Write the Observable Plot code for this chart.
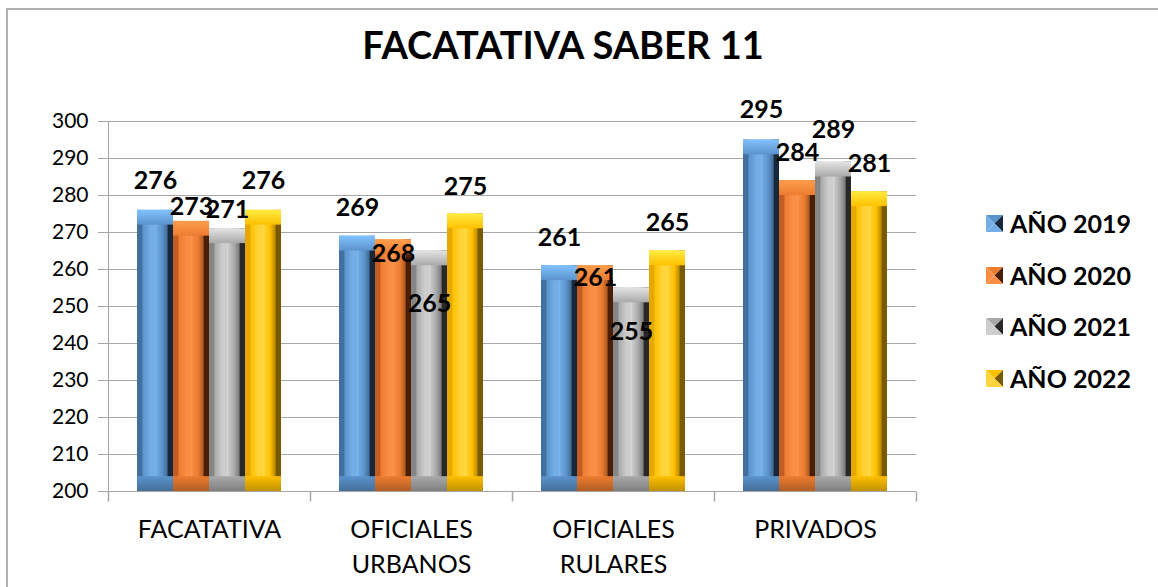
<!DOCTYPE html>
<html><head><meta charset="utf-8">
<script src="https://cdn.jsdelivr.net/npm/d3@7"></script>
<script src="https://cdn.jsdelivr.net/npm/@observablehq/plot@0.6"></script>
<style>
body{margin:0;background:#fff;}
#wrap{position:relative;width:1158px;height:587px;overflow:hidden;font-family:Lato,"Noto Sans",sans-serif;}
#border{position:absolute;left:6px;top:8px;width:1200px;height:700px;border-left:2px solid #b0b0b0;border-top:2px solid #b0b0b0;}
#title{position:absolute;left:0;width:1126px;top:22px;text-align:center;font-weight:bold;font-size:38px;line-height:44px;color:#000;}
#chart{position:absolute;left:0;top:0;}
.leg{position:absolute;left:986px;height:24px;display:flex;align-items:center;font-weight:bold;font-size:25px;color:#000;white-space:nowrap;}
.leg svg{margin-right:7px;}
</style></head>
<body>
<div id="wrap">
  <div id="border"></div>
  <div id="chart"></div>
  <div id="title">FACATATIVA SABER 11</div>
  <div id="legend"></div>
</div>
<script>
// ---- data ----
const categories = ["FACATATIVA", "OFICIALES\nURBANOS", "OFICIALES\nRULARES", "PRIVADOS"];
const series = ["AÑO 2019", "AÑO 2020", "AÑO 2021", "AÑO 2022"];
const v2019 = [276, 269, 261, 295];
const v2020 = [273, 268, 261, 284];
const v2021 = [271, 265, 255, 289];
const v2022 = [276, 275, 265, 281];
const yTicks = [200, 210, 220, 230, 240, 250, 260, 270, 280, 290, 300];

// ---- label placement (data units above/below bar top), as in the original ----
const labelShift = [
  [7.8, 7.5, 7.4, 8.0],
  [3.8, -3.9, -3.2, 7.6],
  [5.0, -14.2, -11.8, 8.6],
  [7.8, 7.4, 7.7, 7.6]
];

const values = [v2019, v2020, v2021, v2022];
const data = categories.flatMap((c, ci) => series.map((s, si) => ({
  cat: c, s, si, v: values[si][ci], shift: labelShift[si][ci]
})));

// colour ramps: [left face, light, base, dark right]
const palettes = [
  ["#42709e", "#74aee6", "#5b93cc", "#17283c"],
  ["#c25c22", "#f98e44", "#ec7c30", "#4a1f06"],
  ["#858585", "#cdcdcd", "#a9a9a9", "#282828"],
  ["#e4a800", "#ffd43a", "#ffc000", "#7a5a00"]
];

const tickSym = {draw(ctx) { ctx.moveTo(0, 0); ctx.lineTo(0, 10); }};
const gridColor = "#a6a6a6";

const chart = Plot.plot({
  width: 1158, height: 587,
  marginLeft: 107, marginRight: 241, marginTop: 121, marginBottom: 96,
  style: {fontFamily: "Lato, 'Noto Sans', sans-serif", color: "#000", background: "transparent"},
  fx: {domain: categories, padding: 0, axis: null, label: null},
  x: {domain: series, paddingInner: 0, paddingOuter: 0.74, axis: null},
  y: {domain: [200, 300], axis: null},
  color: {type: "identity"},
  marks: [
    Plot.gridY(yTicks, {stroke: gridColor, strokeOpacity: 1}),
    Plot.axisY(yTicks, {facetAnchor: "left", tickSize: 10, tickPadding: 10, stroke: gridColor, fill: "#000", fontSize: 21, label: null}),
    Plot.frame({anchor: "left", stroke: gridColor, facetAnchor: "left"}),
    Plot.ruleY([200], {stroke: gridColor}),
    Plot.dot([0], {frameAnchor: "bottom-left", symbol: tickSym, stroke: gridColor, fill: "none"}),
    Plot.dot([0], {frameAnchor: "bottom-right", symbol: tickSym, stroke: gridColor, fill: "none", facetAnchor: "right"}),
    Plot.axisFx({anchor: "bottom", tickSize: 0, tickPadding: 22, fontSize: 25, lineHeight: 1.4, fill: "#000", label: null}),
    Plot.barY(data, {fx: "cat", x: "s", y1: 200, y2: "v", fill: d => `url(#g${d.si})`}),
    Plot.barY(data, {fx: "cat", x: "s", y1: d => d.v - 4, y2: "v", fill: d => `url(#t${d.si})`}),
    Plot.barY(data, {fx: "cat", x: "s", y1: 200, y2: 204, fill: d => `url(#b${d.si})`}),
    Plot.text(data, {fx: "cat", x: "s", y: d => d.v + d.shift, text: d => String(d.v), fontSize: 25, fontWeight: "bold", fill: "#000"})
  ]
});

// gradient definitions for the bevelled look
const svg = d3.select(chart);
const defs = svg.insert("defs", ":first-child");
palettes.forEach(([edge, light, base, dark], i) => {
  const g = defs.append("linearGradient").attr("id", "g" + i).attr("x1", 0).attr("x2", 1).attr("y1", 0).attr("y2", 0);
  [[0, edge], [0.14, edge], [0.16, base], [0.38, light], [0.49, light], [0.5, d3.color(light).brighter(0.4)], [0.52, light], [0.7, base], [0.84, d3.color(base).darker(0.9)], [0.86, dark], [1, dark]]
    .forEach(([o, c]) => g.append("stop").attr("offset", o).attr("stop-color", c));
  const t = defs.append("linearGradient").attr("id", "t" + i).attr("x1", 0).attr("x2", 0).attr("y1", 0).attr("y2", 1);
  [[0, d3.color(light).brighter(0.3)], [1, base]].forEach(([o, c]) => t.append("stop").attr("offset", o).attr("stop-color", c));
  const b = defs.append("linearGradient").attr("id", "b" + i).attr("x1", 0).attr("x2", 0).attr("y1", 0).attr("y2", 1);
  [[0, base], [1, d3.color(base).darker(0.8)]].forEach(([o, c]) => b.append("stop").attr("offset", o).attr("stop-color", c));
});
document.getElementById("chart").appendChild(chart);

// legend
const legend = document.getElementById("legend");
const legTops = [211, 263, 314, 366];
series.forEach((s, i) => {
  const [edge, light, base, dark] = palettes[i];
  const div = document.createElement("div");
  div.className = "leg";
  div.style.top = legTops[i] + "px";
  div.innerHTML = `<svg width="17" height="17" viewBox="0 0 17 17">
    <polygon points="0,0 17,0 8.5,8.5" fill="${base}"/>
    <polygon points="0,0 8.5,8.5 0,17" fill="${light}"/>
    <polygon points="17,0 17,17 8.5,8.5" fill="${dark}"/>
    <polygon points="0,17 8.5,8.5 17,17" fill="${light}"/>
  </svg><span>${s}</span>`;
  legend.appendChild(div);
});
</script>
</body></html>
